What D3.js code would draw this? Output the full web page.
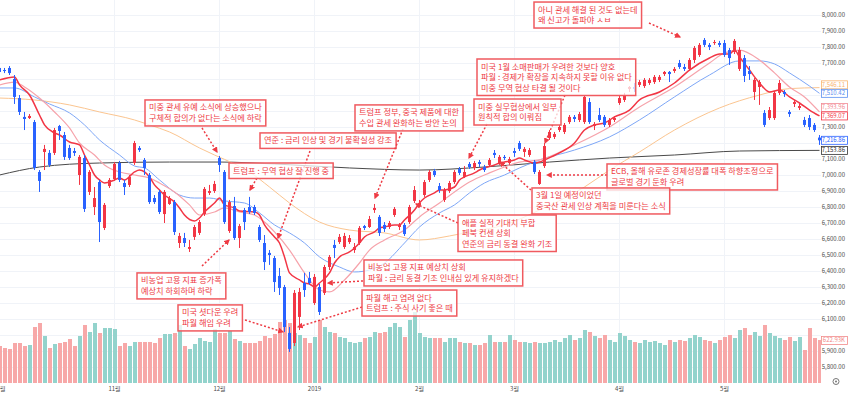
<!DOCTYPE html>
<html>
<head>
<meta charset="utf-8">
<script src="https://d3js.org/d3.v7.min.js"></script>
<style>
  body { margin: 0; background: #fff; }
  svg { display: block; font-family: "Noto Sans CJK KR", "Noto Sans", sans-serif; }
</style>
</head>
<body>
<div id="chart"></div>
<script>
// ---- data (index 0 = first session of Oct 2018) ----
var monthLabels = ["10월", "11월", "12월", "2019", "2월", "3월", "4월", "5월"];
var monthIndex = [0, 23, 44, 63, 84, 103, 124, 145];

var open = [7669,7656,7669,7600,7481,7363,7356,7331,7019,7144,
  7138,7138,7306,7250,7169,7150,7000,7106,6894,6800,
  6956,6669,6931,6975,7075,6950,6938,7075,7169,7094,
  7000,6856,6894,6756,6819,6831,6575,6606,6538,6613,
  6638,6756,6888,6900,7106,7019,6650,6806,6606,6781,
  6800,6800,6675,6575,6513,6481,6369,6300,6013,5950,
  6113,6325,6356,6200,6300,6263,6425,6563,6581,6550,
  6581,6531,6575,6681,6675,6781,6738,6688,6675,6750,
  6675,6688,6706,6838,6813,6875,6969,7025,6931,6844,
  6900,6956,7038,6988,7069,7044,7081,7050,7063,7138,
  7075,7113,7075,7150,7200,7144,7125,7081,6944,7056,
  7231,7238,7281,7269,7331,7363,7344,7331,7456,7306,
  7375,7363,7313,7344,7450,7469,7538,7550,7563,7556,
  7575,7581,7594,7631,7644,7650,7700,7675,7663,7719,
  7750,7844,7813,7825,7825,7825,7781,7769,7663,7731,
  7650,7519,7550,7388,7356,7356,7513,7519,7394,7444,
  7419,7344,7356,7313,7234];
var high = [7681,7669,7681,7625,7500,7394,7381,7344,7031,7188,
  7156,7294,7313,7269,7188,7169,7125,7125,7031,6925,
  6969,6825,6981,7081,7088,6969,7000,7213,7181,7106,
  7013,6875,6906,6906,6869,6844,6638,6638,6594,6688,
  6719,6925,6938,6963,7119,7031,6844,6863,6694,6794,
  6863,6813,6688,6625,6531,6494,6419,6313,6050,6281,
  6294,6388,6394,6381,6319,6438,6500,6594,6631,6638,
  6625,6575,6681,6688,6744,6819,6750,6706,6713,6800,
  6700,6700,6813,6931,6844,6969,7031,7038,6950,6919,
  6963,7031,7050,7056,7081,7088,7094,7063,7106,7156,
  7125,7125,7113,7169,7213,7175,7169,7094,7031,7200,
  7281,7269,7313,7325,7375,7375,7394,7500,7481,7331,
  7419,7375,7356,7369,7494,7513,7556,7575,7594,7606,
  7606,7625,7625,7650,7650,7675,7719,7694,7731,7806,
  7825,7856,7825,7844,7838,7844,7794,7850,7800,7750,
  7681,7606,7594,7406,7425,7525,7594,7531,7406,7469,
  7444,7363,7375,7325,7250];
var low = [7631,7637,7625,7444,7375,7281,7350,7031,6894,7031,
  7050,7125,7219,7094,7094,7119,6938,6769,6875,6750,
  6581,6656,6919,6963,6956,6875,6925,7063,7144,7000,
  6819,6819,6756,6700,6813,6625,6544,6550,6519,6594,
  6625,6744,6875,6888,7019,6694,6638,6594,6544,6656,
  6756,6750,6581,6406,6438,6269,6250,6019,5894,5931,
  6031,6238,6313,6188,6125,6250,6406,6481,6569,6538,
  6569,6513,6563,6656,6669,6763,6619,6644,6663,6738,
  6656,6619,6694,6825,6800,6863,6956,6988,6888,6831,
  6888,6944,7000,6981,7038,7031,7050,7019,7050,7106,
  7063,7094,7063,7113,7150,7113,7113,7006,6938,7044,
  7219,7225,7269,7256,7319,7331,7331,7319,7319,7281,
  7331,7300,7300,7331,7438,7456,7519,7519,7550,7544,
  7563,7569,7581,7619,7581,7638,7663,7650,7650,7700,
  7738,7800,7781,7813,7800,7738,7688,7756,7650,7581,
  7594,7469,7438,7300,7344,7344,7500,7488,7363,7425,
  7406,7300,7281,7269,7188];
var close = [7644,7650,7637,7488,7394,7350,7369,7044,6963,7163,
  7063,7281,7275,7113,7106,7138,7113,6788,7019,6856,
  6706,6813,6969,7069,6969,6925,6988,7200,7156,7044,
  6831,6831,6769,6894,6856,6644,6619,6575,6550,6675,
  6706,6913,6900,6944,7063,6706,6831,6606,6681,6706,
  6769,6763,6594,6456,6500,6331,6294,6050,5913,6263,
  6269,6281,6325,6363,6144,6425,6488,6544,6613,6619,
  6606,6550,6669,6669,6725,6794,6638,6663,6700,6788,
  6688,6631,6800,6906,6825,6956,7019,7000,6906,6906,
  6950,7019,7013,7019,7050,7075,7069,7031,7094,7125,
  7113,7106,7100,7138,7163,7163,7156,7019,7019,7181,
  7269,7256,7300,7313,7363,7350,7381,7488,7331,7319,
  7344,7313,7344,7356,7481,7500,7550,7538,7581,7594,
  7594,7613,7613,7644,7631,7663,7675,7663,7719,7794,
  7813,7813,7800,7831,7813,7750,7731,7838,7781,7619,
  7631,7594,7581,7313,7406,7513,7575,7506,7381,7456,
  7431,7313,7300,7281,7216.86];
// volume, thousands
var volume = [548,518,503,592,592,548,562,829,888,696,
  518,577,592,607,651,548,696,858,755,888,
  740,814,814,799,548,592,548,607,607,607,
  607,592,666,725,725,740,858,548,503,577,
  666,622,607,799,740,740,770,651,622,592,
  592,592,622,696,666,725,890,919,875,727,
  697,653,578,667,919,816,742,727,667,653,
  593,578,593,653,667,742,727,742,816,875,
  816,667,919,1038,727,667,653,653,653,593,
  653,653,593,578,578,549,549,578,697,593,
  593,593,697,623,593,593,578,593,578,578,
  593,623,593,653,697,623,653,771,742,682,
  653,697,623,593,727,682,623,593,578,623,
  593,608,578,549,623,593,623,608,653,697,
  667,623,608,578,623,667,697,653,771,801,
  697,742,682,845,727,682,653,623,667,608,
  667,475,801,653,622.93];

// moving averages as [index, value]
var maRed = [[0,7594],[3,7613],[4,7563],[6,7500],[8,7375],[9,7313],[11,7263],[12,7250],[14,7206],[16,7188],[17,7125],[18,7063],[19,7000],[20,6969],[21,6950],[23,6969],[24,6981],[25,6969],[27,7019],[28,7031],[30,6988],[31,6938],[32,6906],[33,6875],[35,6831],[36,6794],[37,6750],[39,6713],[40,6731],[41,6769],[43,6825],[44,6856],[45,6813],[47,6794],[48,6775],[51,6769],[52,6750],[53,6688],[55,6613],[56,6575],[57,6488],[58,6388],[60,6344],[61,6325],[62,6319],[63,6300],[64,6325],[66,6388],[67,6450],[68,6488],[70,6519],[71,6544],[72,6575],[73,6613],[75,6644],[76,6669],[77,6675],[79,6688],[80,6688],[81,6719],[83,6781],[84,6825],[85,6856],[87,6888],[88,6906],[89,6906],[91,6925],[92,6969],[93,6988],[95,7013],[96,7031],[97,7044],[99,7063],[100,7075],[101,7081],[103,7094],[104,7106],[105,7094],[107,7075],[108,7081],[109,7094],[112,7138],[115,7200],[117,7281],[119,7313],[121,7325],[123,7363],[126,7406],[128,7469],[132,7519],[135,7575],[138,7656],[142,7731],[144,7756],[146,7756],[147,7781],[148,7738],[150,7656],[152,7575],[154,7519],[156,7531],[158,7488],[160,7450],[162,7406],[164,7369.07]];
var maPink = [[0,7563],[3,7581],[5,7550],[8,7481],[11,7394],[14,7294],[16,7200],[19,7125],[21,7063],[24,7019],[27,7000],[30,6981],[32,6950],[35,6894],[38,6813],[40,6750],[43,6769],[45,6794],[48,6769],[51,6750],[53,6706],[55,6644],[58,6531],[61,6388],[64,6281],[66,6269],[69,6344],[72,6450],[74,6531],[77,6594],[81,6656],[84,6738],[88,6825],[91,6894],[94,6956],[98,7013],[101,7050],[104,7081],[108,7094],[115,7188],[122,7300],[128,7425],[135,7550],[142,7700],[145,7763],[148,7781],[152,7719],[155,7638],[158,7550],[161,7488],[164,7393.96]];
var maBlue = [[0,7544],[3,7544],[7,7488],[10,7444],[14,7388],[17,7313],[20,7219],[24,7125],[27,7056],[29,7044],[32,6969],[36,6875],[39,6856],[42,6856],[45,6838],[49,6825],[52,6763],[55,6688],[58,6638],[61,6575],[64,6488],[68,6425],[71,6394],[74,6406],[77,6450],[81,6575],[84,6675],[88,6763],[91,6813],[94,6888],[97,6950],[101,7000],[104,7044],[108,7094],[115,7156],[122,7238],[128,7344],[135,7488],[142,7625],[148,7713],[152,7713],[155,7694],[158,7638],[162,7556],[164,7510.42]];
var maOrange = [[0,7481],[7,7469],[14,7438],[20,7394],[27,7344],[30,7313],[34,7269],[40,7169],[43,7125],[47,7069],[50,7019],[54,6925],[58,6825],[64,6706],[70,6656],[77,6638],[84,6594],[90,6619],[94,6644],[101,6688],[108,6781],[117,6925],[122,7031],[128,7144],[135,7281],[144,7419],[152,7500],[158,7540],[164,7546.11]];
var maGray = [[0,7000],[8,7050],[20,7075],[34,7081],[44,7081],[55,7069],[70,7044],[84,7031],[97,7050],[110,7081],[122,7106],[135,7125],[148,7150],[164,7153.86]];

var notes = [
  ["아니 관세 해결 된 것도 없는데", "왜 신고가 돌파야 ㅅㅂ"],
  ["미국 1월 소매판매가 우려한 것보다 양호", "파월 : 경제가 확장을 지속하지 못할 이유 없다", "미중 무역 협상 타결 될 것이다"],
  ["미중 실무협상에서 일부", "원칙적 합의 이뤄짐"],
  ["미중 관세 유예 소식에 상승했으나", "구체적 합의가 없다는 소식에 하락"],
  ["연준 : 금리 인상 및 경기 불확실성 강조"],
  ["트럼프 : 무역 협상 잘 진행 중"],
  ["트럼프 정부, 중국 제품에 대한", "수입 관세 완화하는 방안 논의"],
  ["비농업 고용 지표 증가폭", "예상치 하회하며 하락"],
  ["미국 셧다운 우려", "파월 해임 우려"],
  ["비농업 고용 지표 예상치 상회", "파월 : 금리 동결 기조 인내심 있게 유지하겠다"],
  ["파월 해고 염려 없다", "트럼프 : 주식 사기 좋은 때"],
  ["애플 실적 기대치 부합", "페북 컨센 상회", "연준의 금리 동결 완화 기조"],
  ["ECB, 올해 유로존 경제성장률 대폭 하향조정으로", "글로벌 경기 둔화 우려"],
  ["3월 1일 예정이었던", "중국산 관세 인상 계획을 미룬다는 소식"]
];
// where each note sits, in chart coordinates: box corner, arrow start, arrow end
var noteBox = [[107,8081],[95.6,7725],[95,7475],[29.2,7469],[52.2,7263],[46,7075],[71.2,7438],[27.6,6388],[35.8,6188],[73,6469],[72.6,6281],[91.8,6750],[121.6,7069],[106.6,6919]];
var noteArrow = [[130,7950,136.2,7863],[113.2,7500,109.2,7200],[97.6,7319,94,7106],[40.6,7294,43.6,7144],[62.2,7150,55.8,6606],[51.6,6981,50.2,6906],[80.8,7288,75.2,6856],[40.6,6431,46,6594],[49.2,6094,56.8,6019],[72.8,6338,65.8,6325],[72.6,6175,59.8,6050],[91.8,6700,83.4,6819],[121.6,7000,109.6,7000],[106.4,6906,100.2,7081]];

// ---- drawing ----
var width = 850, height = 396, plotRight = 821;
var upColor = "#f23645", downColor = "#2962ff";
var noteColor = "#ee3b44";
var lineGap = 10.5;

var xScale = d3.scaleLinear().domain([0, 164]).range([-1, 819]);
var yScale = d3.scaleLinear().domain([5800, 8000]).range([367, 15]);
var vScale = d3.scaleLinear().domain([0, 1000]).range([382.5, 315]);

var svg = d3.select("#chart").append("svg")
  .attr("width", width)
  .attr("height", height);

var defs = svg.append("defs");
defs.append("clipPath").attr("id", "plotclip")
  .append("rect").attr("x", 0).attr("y", 0).attr("width", plotRight).attr("height", 383);
defs.append("marker")
  .attr("id", "arrowhead")
  .attr("viewBox", "0 0 10 10")
  .attr("refX", 8).attr("refY", 5)
  .attr("markerWidth", 6).attr("markerHeight", 6)
  .attr("markerUnits", "userSpaceOnUse")
  .attr("orient", "auto")
  .append("path").attr("d", "M0,0 L10,5 L0,10 Z").attr("fill", noteColor);

var plot = svg.append("g").attr("clip-path", "url(#plotclip)");

// grid
var priceTicks = d3.range(5800, 8001, 100);
plot.append("g").selectAll("line").data(priceTicks).enter().append("line")
  .attr("x1", 0).attr("x2", plotRight)
  .attr("y1", function(d){ return Math.round(yScale(d)) + 0.5; })
  .attr("y2", function(d){ return Math.round(yScale(d)) + 0.5; })
  .attr("stroke", "#f0f3f8");
plot.append("g").selectAll("line").data(monthIndex).enter().append("line")
  .attr("x1", function(d){ return xScale(d) + 0.5; })
  .attr("x2", function(d){ return xScale(d) + 0.5; })
  .attr("y1", 0).attr("y2", 383)
  .attr("stroke", "#f0f3f8");

var idx = d3.range(close.length);

// volume
plot.append("g").selectAll("rect").data(idx).enter().append("rect")
  .attr("x", function(i){ return xScale(i) - 1.5; })
  .attr("width", 4)
  .attr("y", function(i){ return vScale(volume[i]); })
  .attr("height", function(i){ return vScale(0) - vScale(volume[i]); })
  .attr("fill", function(i){ return close[i] >= open[i] ? "#93d3cc" : "#f7a8a8"; })
  .attr("shape-rendering", "crispEdges");

// moving averages
var maLine = d3.line()
  .x(function(d){ return xScale(d[0]) + 0.5; })
  .y(function(d){ return yScale(d[1]); })
  .curve(d3.curveMonotoneX);
var maList = [
  {data: maGray, color: "#4a4a4a", w: 1},
  {data: maOrange, color: "#fbc590", w: 1},
  {data: maBlue, color: "#7ea7f7", w: 1},
  {data: maPink, color: "#f6a3ab", w: 1.2},
  {data: maRed, color: "#f23645", w: 1.5}
];
plot.append("g").selectAll("path").data(maList).enter().append("path")
  .attr("d", function(d){ return maLine(d.data); })
  .attr("fill", "none")
  .attr("stroke", function(d){ return d.color; })
  .attr("stroke-width", function(d){ return d.w; });

// candles
var candles = plot.append("g").selectAll("g").data(idx).enter().append("g");
candles.append("line")
  .attr("x1", function(i){ return xScale(i) + 0.5; })
  .attr("x2", function(i){ return xScale(i) + 0.5; })
  .attr("y1", function(i){ return yScale(high[i]); })
  .attr("y2", function(i){ return yScale(low[i]); })
  .attr("stroke", function(i){ return close[i] >= open[i] ? upColor : downColor; })
  .attr("stroke-width", 1);
candles.append("rect")
  .attr("x", function(i){ return xScale(i) - 1; })
  .attr("width", 3)
  .attr("y", function(i){ return yScale(Math.max(open[i], close[i])); })
  .attr("height", function(i){ return Math.max(1, Math.abs(yScale(open[i]) - yScale(close[i]))); })
  .attr("fill", function(i){ return close[i] >= open[i] ? upColor : downColor; });

// annotations: one text element per box, one tspan per line
var noteG = svg.append("g");
notes.forEach(function(lines, k){
  var bx = xScale(noteBox[k][0]), by = yScale(noteBox[k][1]);
  var a = noteArrow[k];
  noteG.append("line")
    .attr("x1", xScale(a[0])).attr("y1", yScale(a[1]))
    .attr("x2", xScale(a[2])).attr("y2", yScale(a[3]))
    .attr("stroke", noteColor)
    .attr("stroke-width", 1.5)
    .attr("stroke-dasharray", "2,2")
    .attr("marker-end", "url(#arrowhead)");

  var g = noteG.append("g");
  var rect = g.append("rect");
  var txt = g.append("text")
    .attr("font-size", 8.2)
    .attr("fill", noteColor);
  var maxW = 0;
  lines.forEach(function(s, j){
    var t = txt.append("tspan")
      .attr("x", bx + 4)
      .attr("y", by + 2.5 + lineGap * j + 8)
      .text(s);
    maxW = Math.max(maxW, t.node().getComputedTextLength());
  });
  rect.attr("x", bx).attr("y", by)
    .attr("width", maxW + 8)
    .attr("height", lines.length * lineGap + 5)
    .attr("fill", "#fff").attr("fill-opacity", 0.75)
    .attr("stroke", "#f05a5f").attr("stroke-width", 1.5);
});

// last value tags
var fmt = d3.format(",.2f");
var tags = [
  {v: maOrange[maOrange.length - 1][1], color: "#f9b46e"},
  {v: maBlue[maBlue.length - 1][1], color: "#5b8ff0"},
  {v: maPink[maPink.length - 1][1], color: "#f28a94"},
  {v: maRed[maRed.length - 1][1], color: "#f23645"},
  {v: close[close.length - 1], color: downColor},
  {v: maGray[maGray.length - 1][1], color: "#333"}
];
tags.forEach(function(t){ t.y = yScale(t.v); });
tags.sort(function(a, b){ return a.y - b.y; });
for (var k = tags.length - 2; k >= 0; k--) {
  if (tags[k + 1].y - tags[k].y < 8.5) tags[k].y = tags[k + 1].y - 8.5;
}
tags.push({v: volume[volume.length - 1], color: "#f28a8a", y: vScale(volume[volume.length - 1]), vol: true});

// right price axis, skipping labels hidden under a tag
var shownTicks = priceTicks.filter(function(d){
  var y = yScale(d);
  return tags.every(function(t){ return Math.abs(t.y - y) > 8; });
});
svg.append("g").selectAll("text").data(shownTicks).enter().append("text")
  .attr("x", 845)
  .attr("y", function(d){ return yScale(d) + 2; })
  .attr("text-anchor", "end")
  .attr("font-size", 6)
  .attr("fill", "#4a4a4a")
  .text(function(d){ return fmt(d); });

var tagG = svg.append("g");
tags.forEach(function(t){
  tagG.append("rect")
    .attr("x", 821.5).attr("y", t.y - 4)
    .attr("width", 26).attr("height", 8)
    .attr("fill", "#fff")
    .attr("stroke", t.color).attr("stroke-width", 0.8);
  tagG.append("text")
    .attr("x", 845).attr("y", t.y + 2)
    .attr("text-anchor", "end")
    .attr("font-size", 6)
    .attr("fill", t.color)
    .text(t.vol ? d3.format(".2f")(t.v) + "K" : fmt(t.v));
});

// month axis
svg.append("g").selectAll("text").data(monthIndex).enter().append("text")
  .attr("x", function(d){ return xScale(d) + 0.5; })
  .attr("y", 390.5)
  .attr("text-anchor", "middle")
  .attr("font-size", 6)
  .attr("fill", "#4a4a4a")
  .text(function(d, i){ return monthLabels[i]; });

// settings icon
svg.append("circle").attr("cx", 836).attr("cy", 381.5).attr("r", 3)
  .attr("fill", "none").attr("stroke", "#777").attr("stroke-width", 1);
svg.append("circle").attr("cx", 836).attr("cy", 381.5).attr("r", 1)
  .attr("fill", "#777");
</script>
</body>
</html>
